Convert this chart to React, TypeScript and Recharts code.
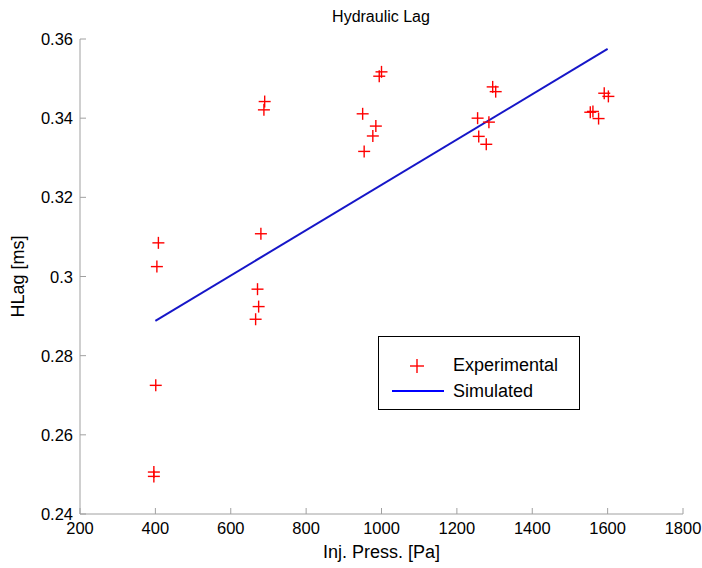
import { Scatter, ScatterChart, XAxis, YAxis } from "recharts";

const expPress = [
  408, 404, 690, 688, 680, 1000, 994, 950, 985, 977, 954,
  1255, 1285, 1295, 1303, 1258, 1278, 1554, 1561, 1576, 1591, 1602,
  671, 674, 666, 401, 396, 396,
];
const expLag = [
  0.3085, 0.3025, 0.3442, 0.3421, 0.3108, 0.3517, 0.3506, 0.3411, 0.338, 0.3355, 0.3316,
  0.34, 0.339, 0.3479, 0.3467, 0.3354, 0.3334, 0.3415, 0.3417, 0.3399, 0.3463, 0.3455,
  0.2968, 0.2924, 0.2892, 0.2725, 0.2506, 0.2495,
];

// simulated fit, end points
const simPress = [400, 1600];
const simLag = [0.2888, 0.3575];

const xTicks = [200, 400, 600, 800, 1000, 1200, 1400, 1600, 1800];
const yTicks = [0.24, 0.26, 0.28, 0.3, 0.32, 0.34, 0.36];

const experimental = expPress.map((p, i) => ({ p, lag: expLag[i] }));
const simulated = simPress.map((p, i) => ({ p, lag: simLag[i] }));

const FONT = "'Liberation Sans', Arial, sans-serif";
const AXIS = "#a0a0a0";
const TICK = 6;

const Plus = (props: any) => {
  const { cx, cy } = props;
  if (cx == null || cy == null) return null;
  return (
    <g stroke="#ff0000" strokeWidth={1.4}>
      <line x1={cx - 6} y1={cy} x2={cx + 6} y2={cy} />
      <line x1={cx} y1={cy - 6} x2={cx} y2={cy + 6} />
    </g>
  );
};

const BottomTick = (props: any) => {
  const { x, y, payload } = props;
  return (
    <g>
      <line x1={x} y1={y} x2={x} y2={y - TICK} stroke={AXIS} />
      <text x={x} y={y + 20} textAnchor="middle" fontSize={16.5} fontFamily={FONT} fill="#000">
        {payload.value}
      </text>
    </g>
  );
};

const LeftTick = (props: any) => {
  const { x, y, payload } = props;
  return (
    <g>
      <line x1={x} y1={y} x2={x + TICK} y2={y} stroke={AXIS} />
      <text x={x - 7} y={y + 6} textAnchor="end" fontSize={16.5} fontFamily={FONT} fill="#000">
        {payload.value === 0.3 ? "0.3" : payload.value.toFixed(2)}
      </text>
    </g>
  );
};

const TopTick = (props: any) => {
  const { x, y } = props;
  return <line x1={x} y1={y} x2={x} y2={y + TICK} stroke={AXIS} />;
};

const RightTick = (props: any) => {
  const { x, y } = props;
  return <line x1={x} y1={y} x2={x - TICK} y2={y} stroke={AXIS} />;
};

const LegendBox = () => (
  <div
    style={{
      position: "absolute",
      left: 378,
      top: 336,
      width: 200,
      height: 72,
      border: "1.5px solid #000",
      background: "#fff",
      fontFamily: FONT,
      fontSize: 18,
    }}
  >
    <svg width={70} height={72} style={{ position: "absolute", left: 0, top: 0 }}>
      <g stroke="#ff0000" strokeWidth={1.4}>
        <line x1={31} y1={29} x2={45} y2={29} />
        <line x1={38} y1={22} x2={38} y2={36} />
      </g>
      <line x1={13} y1={54} x2={65} y2={54} stroke="#0000ff" strokeWidth={2} />
    </svg>
    <div style={{ position: "absolute", left: 74, top: 15, lineHeight: "26px" }}>
      <div>Experimental</div>
      <div>Simulated</div>
    </div>
  </div>
);

export default function App() {
  return (
    <div style={{ position: "absolute", left: 0, top: 0, width: 702, height: 568, background: "#fff" }}>
      <div
        style={{
          position: "absolute",
          left: 0,
          width: 702,
          top: 8,
          textAlign: "center",
          fontFamily: "'Liberation Sans Narrow', 'Liberation Sans', Arial, sans-serif",
          fontSize: 16,
          paddingLeft: 60,
          boxSizing: "border-box",
        }}
      >
        Hydraulic Lag
      </div>
      <ScatterChart width={702} height={568} margin={{ top: 39, right: 19, bottom: 0, left: 0 }}>
        <XAxis
          xAxisId="b"
          type="number"
          dataKey="p"
          domain={[200, 1800]}
          ticks={xTicks}
          height={54}
          tickSize={0}
          tickMargin={0}
          tickLine={false}
          axisLine={{ stroke: AXIS }}
          tick={<BottomTick />}
          label={{
            value: "Inj. Press. [Pa]",
            position: "insideBottom",
            offset: 10,
            style: { fontFamily: FONT, fontSize: 18, fill: "#000" },
          }}
        />
        <XAxis
          xAxisId="t"
          orientation="top"
          type="number"
          dataKey="p"
          domain={[200, 1800]}
          ticks={xTicks}
          height={0}
          tickSize={0}
          tickLine={false}
          axisLine={{ stroke: AXIS }}
          tick={<TopTick />}
        />
        <YAxis
          yAxisId="l"
          type="number"
          dataKey="lag"
          domain={[0.24, 0.36]}
          ticks={yTicks}
          width={80}
          tickSize={0}
          tickMargin={0}
          tickLine={false}
          axisLine={{ stroke: AXIS }}
          tick={<LeftTick />}
          label={{
            value: "HLag [ms]",
            angle: -90,
            position: "insideLeft",
            offset: 0,
            dx: 18,
            style: { fontFamily: FONT, fontSize: 18, fill: "#000", textAnchor: "middle" },
          }}
        />
        <YAxis
          yAxisId="r"
          orientation="right"
          type="number"
          dataKey="lag"
          domain={[0.24, 0.36]}
          ticks={yTicks}
          width={0}
          tickSize={0}
          tickLine={false}
          axisLine={{ stroke: AXIS }}
          tick={<RightTick />}
        />
        <Scatter
          name="Simulated"
          data={simulated}
          xAxisId="b"
          yAxisId="l"
          line={{ stroke: "#1616c8", strokeWidth: 2 }}
          shape={() => null}
          isAnimationActive={false}
        />
        <Scatter
          name="Experimental"
          data={experimental}
          xAxisId="b"
          yAxisId="l"
          shape={<Plus />}
          isAnimationActive={false}
        />
      </ScatterChart>
      <LegendBox />
    </div>
  );
}
